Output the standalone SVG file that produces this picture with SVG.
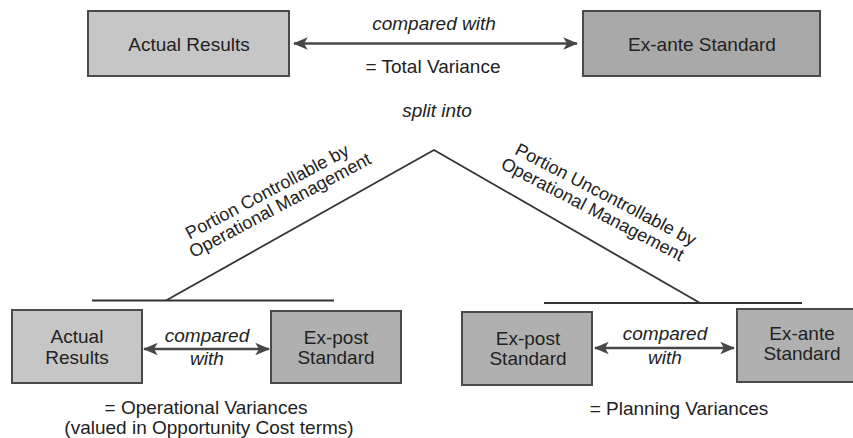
<svg xmlns="http://www.w3.org/2000/svg" width="853" height="438" viewBox="0 0 853 438">
<style>
.box{stroke:#4a4a4a;stroke-width:2}
.light{fill:#c6c6c6}
.mid{fill:#b0b0b0}
.dark{fill:#a9a9a9}
text{font-family:"Liberation Sans",Arial,sans-serif;font-size:19px;fill:#222;text-anchor:middle}
.it{font-style:italic}
.rot{font-size:18px}
.conn{stroke:#474747;stroke-width:2.5;fill:none}
.ln{stroke:#333;stroke-width:1.8;fill:none}
</style>
<defs>
<marker id="ah" viewBox="0 0 12 10" refX="11" refY="5" markerWidth="6" markerHeight="5" orient="auto-start-reverse" markerUnits="strokeWidth">
<path d="M0,0 L12,5 L0,10 L3,5 z" fill="#474747"/>
</marker>
</defs>
<rect width="853" height="438" fill="#fff"/>
<g id="top-actual"><rect class="box light" x="88" y="11" width="201" height="65"/><text x="189" y="51">Actual Results</text></g>
<g id="top-exante"><rect class="box dark" x="583" y="11" width="237" height="65"/><text x="702" y="51">Ex-ante Standard</text></g>
<g id="bl-actual"><rect class="box light" x="12" y="310" width="130" height="73"/><text x="77" y="343">Actual</text><text x="77" y="364">Results</text></g>
<g id="bl-expost"><rect class="box mid" x="271" y="311" width="130" height="72"/><text x="336" y="344">Ex-post</text><text x="336" y="364">Standard</text></g>
<g id="br-expost"><rect class="box mid" x="462" y="312" width="130" height="73"/><text x="528" y="345">Ex-post</text><text x="528" y="365">Standard</text></g>
<g id="br-exante"><rect class="box mid" x="737" y="309" width="135" height="73"/><text x="802" y="340">Ex-ante</text><text x="802" y="360">Standard</text></g>
<g id="connectors">
<line class="conn" x1="294" y1="43.5" x2="577" y2="43.5" marker-start="url(#ah)" marker-end="url(#ah)"/>
<line class="conn" x1="144" y1="349" x2="269" y2="349" marker-start="url(#ah)" marker-end="url(#ah)"/>
<line class="conn" x1="595" y1="348" x2="734" y2="348" marker-start="url(#ah)" marker-end="url(#ah)"/>
<polyline class="ln" points="166,300.5 434,150 700,303"/>
<line class="ln" x1="92" y1="300.5" x2="334" y2="300.5"/>
<line class="ln" x1="544" y1="303" x2="802" y2="303"/>
</g>
<g id="labels">
<text class="it" x="434" y="30">compared with</text>
<text x="433" y="73">= Total Variance</text>
<text class="it" x="437" y="117">split into</text>
<text class="it" x="207" y="342">compared</text>
<text class="it" x="207" y="365">with</text>
<text class="it" x="665" y="340">compared</text>
<text class="it" x="665" y="364">with</text>
<text x="206" y="414">= Operational Variances</text>
<text x="209" y="434">(valued in Opportunity Cost terms)</text>
<text x="679" y="415">= Planning Variances</text>
<text class="rot" transform="translate(270,197) rotate(-28)"><tspan x="0" y="0">Portion Controllable by</tspan><tspan x="5" y="18">Operational Management</tspan></text>
<text class="rot" transform="translate(603,200) rotate(27.5)"><tspan x="0" y="0">Portion Uncontrollable by</tspan><tspan x="-5" y="19">Operational Management</tspan></text>
</g>
</svg>
